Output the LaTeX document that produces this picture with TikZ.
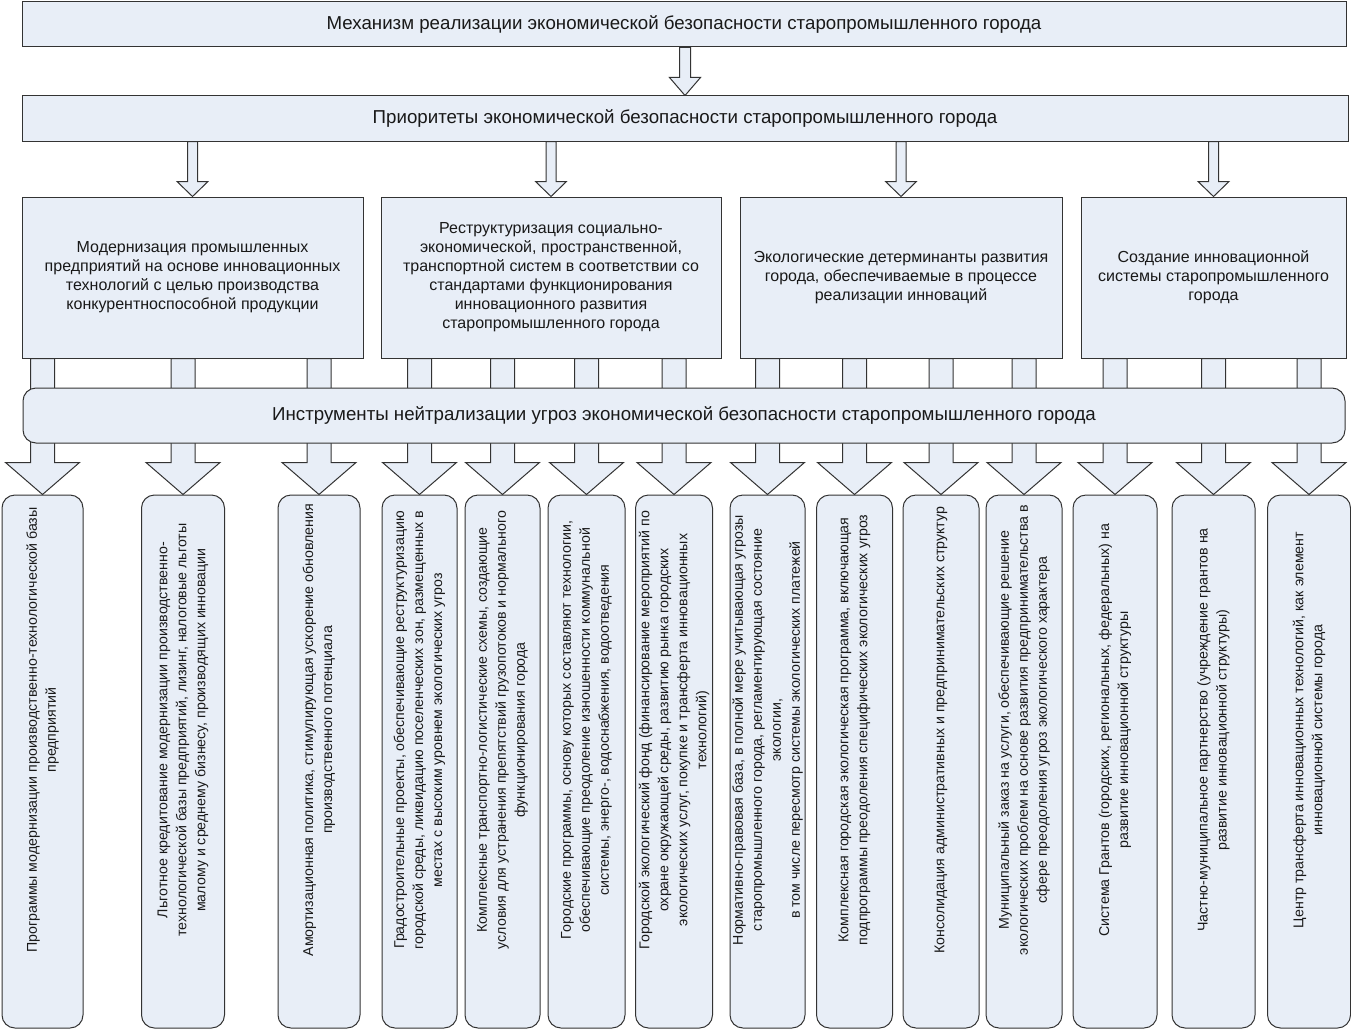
\documentclass[tikz,border=0pt]{standalone}
\usepackage{fontspec}
\setmainfont{Liberation Sans}
\usetikzlibrary{calc,backgrounds}
\definecolor{fondo}{HTML}{E8EEF7}
\definecolor{borde}{HTML}{333333}
\tikzset{
  caja/.style={draw=borde, fill=fondo, line width=1pt, inner sep=0pt, text=black!90},
  prior/.style={caja, minimum height=161, align=center, font=\fontsize{16}{19}\selectfont},
  instr/.style={caja, rounded corners=13, minimum width=#1, minimum height=533},
  vert/.style={rotate=90, align=center, text=black!90, font=\fontsize{14.2}{19}\selectfont},
  tubo/.style={draw=borde, fill=fondo, line width=1pt, line join=miter},
}
% flecha de bloque: desde #1 hasta #2, medio tubo #3, media punta #4, largo punta #5
\newcommand\flecha[5]{%
  \draw[tubo] ($(#2.north |- #1.south)+(-#3,0)$) |- ($(#2.north)+(-#4,#5)$)
    -- (#2.north) -- ($(#2.north)+(#4,#5)$) -| ($(#2.north |- #1.south)+(#3,0)$) -- cycle;}
\begin{document}
\begin{tikzpicture}[x=1pt,y=1pt]
\useasboundingbox (0,0) rectangle (1351,-1030);
% Niveles superiores
\node[caja, minimum width=1324, minimum height=45, font=\fontsize{18.7}{22}\selectfont] (mec) at (684,-24.5)
  {Механизм реализации экономической безопасности старопромышленного города};
\node[caja, minimum width=1326, minimum height=45, font=\fontsize{18.7}{22}\selectfont] (prio) at (685,-118.5)
  {Приоритеты экономической безопасности старопромышленного города};
% Prioridades
\node[prior, minimum width=341] (ob1) at (192.5,-277.5)
  {Модернизация промышленных\\предприятий на основе инновационных\\технологий с целью производства\\конкурентноспособной продукции};
\node[prior, minimum width=340] (ob2) at (551,-277.5)
  {Реструктуризация социально-\\экономической, пространственной,\\транспортной систем в соответствии со\\стандартами функционирования\\инновационного развития\\старопромышленного города};
\node[prior, minimum width=322] (ob3) at (901,-277.5)
  {Экологические детерминанты развития\\города, обеспечиваемые в процессе\\реализации инноваций};
\node[prior, minimum width=265] (ob4) at (1213.5,-277.5)
  {Создание инновационной\\системы старопромышленного\\города};
% Instrumentos
\node[caja, rounded corners=13, minimum width=1322, minimum height=55, font=\fontsize{18.7}{22}\selectfont] (ins) at (684,-415.5)
  {Инструменты нейтрализации угроз экономической безопасности старопромышленного города};
\node[instr=81] (t1) at (42.5,-761.5) {};
\node[instr=83] (t2) at (183,-761.5) {};
\node[instr=82] (t3) at (319,-761.5) {};
\node[instr=75] (t4) at (419.5,-761.5) {};
\node[instr=75] (t5) at (502.5,-761.5) {};
\node[instr=77] (t6) at (586.5,-761.5) {};
\node[instr=77] (t7) at (674,-761.5) {};
\node[instr=75] (t8) at (767.5,-761.5) {};
\node[instr=76] (t9) at (854.5,-761.5) {};
\node[instr=76] (t10) at (941,-761.5) {};
\node[instr=76] (t11) at (1024,-761.5) {};
\node[instr=84] (t12) at (1115,-761.5) {};
\node[instr=83] (t13) at (1213.5,-761.5) {};
\node[instr=83] (t14) at (1309,-761.5) {};
% Textos verticales
\node[vert] (l1) at ($(t1)+(0,31.5)$) {Программы модернизации производственно-технологической базы\\предприятий};
\node[vert] (l2) at ($(t2)+(0,31.5)$) {Льготное кредитование модернизации производственно-\\технологической базы предприятий, лизинг, налоговые льготы\\малому и среднему бизнесу, производящих инновации};
\node[vert] (l3) at ($(t3)+(0,31.5)$) {Амортизационная политика, стимулирующая ускорение обновления\\производственного потенциала};
\node[vert] (l4) at ($(t4)+(0,31.5)$) {Градостроительные проекты, обеспечивающие реструктуризацию\\городской среды, ликвидацию поселенческих зон, размещенных в\\местах с высоким уровнем экологических угроз};
\node[vert] (l5) at ($(t5)+(0,31.5)$) {Комплексные транспортно-логистические схемы, создающие\\условия для устранения препятствий грузопотоков и нормального\\функционирования города};
\node[vert] (l6) at ($(t6)+(0,31.5)$) {Городские программы, основу которых составляют технологии,\\обеспечивающие преодоление изношенности коммунальной\\системы, энерго-, водоснабжения, водоотведения};
\node[vert] (l7) at ($(t7)+(0,31.5)$) {Городской экологический фонд (финансирование мероприятий по\\охране окружающей среды, развитию рынка городских\\экологических услуг, покупке и трансферта инновационных\\технологий)};
\node[vert] (l8) at ($(t8)+(0,31.5)$) {Нормативно-правовая база, в полной мере учитывающая угрозы\\старопромышленного города, регламентирующая состояние\\экологии,\\в том числе пересмотр системы экологических платежей};
\node[vert] (l9) at ($(t9)+(0,31.5)$) {Комплексная городская экологическая программа, включающая\\подпрограммы преодоления специфических экологических угроз};
\node[vert] (l10) at ($(t10)+(0,31.5)$) {Консолидация административных и предпринимательских структур};
\node[vert] (l11) at ($(t11)+(0,31.5)$) {Муниципальный заказ на услуги, обеспечивающие решение\\экологических проблем на основе развития предпринимательства в\\сфере преодоления угроз экологического характера};
\node[vert] (l12) at ($(t12)+(0,31.5)$) {Система Грантов (городских, региональных, федеральных) на\\развитие инновационной структуры};
\node[vert] (l13) at ($(t13)+(0,31.5)$) {Частно-муниципальное партнерство (учреждение грантов на\\развитие инновационной структуры)};
\node[vert] (l14) at ($(t14)+(0,31.5)$) {Центр трансферта инновационных технологий, как элемент\\инновационной системы города};
% Flechas
\begin{pgfonlayer}{background}
\flecha{mec}{prio}{5.5}{15.5}{18}
\foreach \o in {ob1,ob2,ob3,ob4} {\flecha{prio}{\o}{5}{15.5}{15}}
\foreach \t in {1,2,3} {\flecha{ob1}{t\t}{12}{37}{32}}
\foreach \t in {4,5,6,7} {\flecha{ob2}{t\t}{12}{37}{32}}
\foreach \t in {8,9,10,11} {\flecha{ob3}{t\t}{12}{37}{32}}
\foreach \t in {12,13,14} {\flecha{ob4}{t\t}{12}{37}{32}}
\end{pgfonlayer}
\end{tikzpicture}
\end{document}
